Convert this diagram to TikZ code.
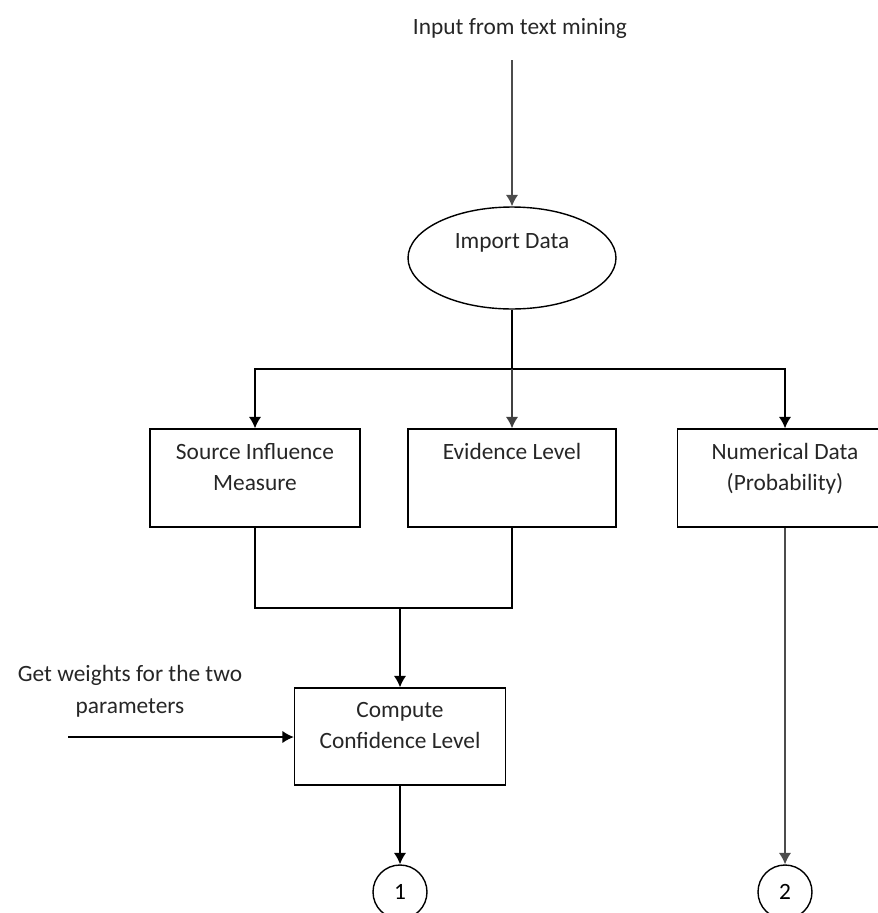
\documentclass[tikz,border=0pt]{standalone}
\usepackage{fontspec}
\setmainfont{Carlito}
\usetikzlibrary{positioning,shapes.geometric,arrows.meta}

\tikzset{
    box/.style={rectangle, draw, inner sep=0pt, minimum height=1.96cm},
    txt/.style={inner sep=0pt, align=center, text=black!85},
    conn/.style={->, line width=0.8pt},
}

\begin{document}
\begin{tikzpicture}[
                            x=0.02cm, y=-0.02cm,
                            line width=0.8pt,
                            >={Latex[length=6.5pt,width=7pt]},
                            font=\fontsize{13.3}{18}\selectfont
                        ]
                        \useasboundingbox (0,0) rectangle (878,913);
                        % Blocks
                        \node [txt] (input) at (520,28) {Input from text mining};
                        \coordinate (instart) at (512,60);
                        \node [ellipse, draw, inner sep=0pt, minimum width=4.16cm, minimum height=2.04cm] (import) at (512,258) {};
                        \node [txt, below=15pt of import.north] (importtxt) {Import Data};
                        \coordinate (split) at (512,369);

                        \node [box, minimum width=4.2cm] (source) at (255,478) {};
                        \node [txt, below=8pt of source.north] (sourcetxt) {Source Influence\\Measure};
                        \node [box, minimum width=4.16cm] (evid) at (512,478) {};
                        \node [txt, below=8pt of evid.north] (evidtxt) {Evidence Level};
                        \node [box, minimum width=4.3cm] (num) at (785,478) {};
                        \node [txt, below=8pt of num.north] (numtxt) {Numerical Data\\(Probability)};

                        \coordinate (merge) at (400,608);
                        \node [box, minimum width=4.22cm, minimum height=1.94cm] (compute) at (400,736.5) {};
                        \node [txt, below=8pt of compute.north] (computetxt) {Compute\\Confidence Level};
                        \node [txt] (weights) at (130,691) {Get weights for the two\\parameters};
                        \coordinate (wstart) at (68,737);

                        \node [circle, draw, inner sep=0pt, minimum size=1.08cm] (out1) at (400,892) {1};
                        \node [circle, draw, inner sep=0pt, minimum size=1.08cm] (out2) at (785,892) {2};

                        % Connections
                        \draw [conn, black!70] (instart) -- (import.north);
                        \draw (import.south) -- (split);
                        \draw [conn] (split) -| (source.north);
                        \draw [conn] (split) -| (num.north);
                        \draw [conn, black!75] (split) -- (evid.north);
                        \draw (source.south) |- (merge) -| (evid.south);
                        \draw [conn] (merge) -- (compute.north);
                        \draw [conn] (wstart) -- (wstart -| compute.west);
                        \draw [conn] (compute.south) -- (out1.north);
                        \draw [conn, black!70] (num.south) -- (out2.north);
                    \end{tikzpicture}
\end{document}
